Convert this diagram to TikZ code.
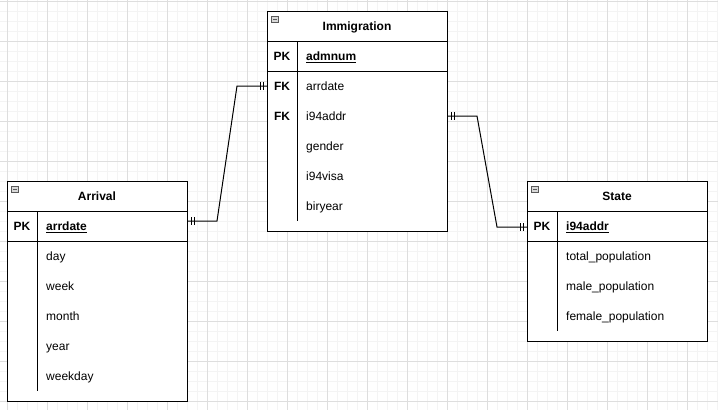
\documentclass[tikz,border=0pt]{standalone}
\usepackage{fontspec}
\setmainfont{Liberation Sans}
\usepackage{tikz}
\usetikzlibrary{positioning}

\definecolor{gridminor}{HTML}{F4F4F4}
\definecolor{gridmajor}{HTML}{DEDEDE}

\begin{document}
\begin{tikzpicture}[
  x=1pt, y=-1pt,
  every node/.style={font=\fontsize{12}{14}\selectfont, text height=11pt, text depth=2pt},
  hd/.style={outer sep=0pt, minimum width=180pt, minimum height=30pt, font=\fontsize{12}{14}\selectfont\bfseries},
  rw/.style={outer sep=0pt, minimum width=180pt, minimum height=30pt},
  bd/.style={outer sep=0pt, minimum width=180pt},
  tbl/.style={draw, line width=1pt, fill=white},
  key/.style={font=\fontsize{12}{14}\selectfont\bfseries},
  fld/.style={anchor=west, inner sep=0pt},
  ico/.style={draw=gray!70!black, fill=gray!30, minimum width=7pt, minimum height=6pt, inner sep=0pt, text height=, text depth=,
    path picture={\draw[gray!70!black] ([xshift=1.5pt]path picture bounding box.west) -- ([xshift=-1.5pt]path picture bounding box.east);}},
  bars/.pic={\draw[line width=1pt] (0,-4) -- (0,4) (3,-4) -- (3,4);}
]
\useasboundingbox (0,0) rectangle (718,410);

% grid
\foreach \x in {7,17,...,717} \draw[gridminor, line width=1pt] (\x,0) -- (\x,410);
\foreach \y in {1,11,...,401} \draw[gridminor, line width=1pt] (0,\y) -- (718,\y);
\foreach \x in {7,47,...,687} \draw[gridmajor, line width=1pt] (\x,0) -- (\x,410);
\foreach \y in {1,41,...,401} \draw[gridmajor, line width=1pt] (0,\y) -- (718,\y);

% Immigration
\node[hd] (imm) at (357,26) {};
\node[rw, below=0pt of imm] (imm-pk) {};
\node[bd, minimum height=160pt, below=0pt of imm-pk] (imm-bd) {};
\draw[tbl] (imm.north west) rectangle (imm-bd.south east);
\draw[line width=1pt] (imm.south west) -- (imm.south east) (imm-pk.south west) -- (imm-pk.south east);
\draw[line width=1pt] ([xshift=30pt]imm.south west) -- ([shift={(30,-10)}]imm-bd.south west);
\node[hd] at (imm) {Immigration};
\node[ico] at ([shift={(8,8)}]imm.north west) {};
\node[key] at ([xshift=15pt]imm-pk.west) {PK};
\node[fld, font=\fontsize{12}{14}\selectfont\bfseries] (imm-admnum) at ([xshift=39pt]imm-pk.west) {\underline{admnum}};
\foreach \f [count=\i] in {arrdate,i94addr,gender,i94visa,biryear}
  \node[fld] (imm-\f) at ([shift={(39,{30*\i-15})}]imm-bd.north west) {\f};
\node[key] at (imm-pk.west |- imm-arrdate) [xshift=15pt] {FK};
\node[key] at (imm-pk.west |- imm-i94addr) [xshift=15pt] {FK};

% Arrival
\node[hd] (arr) at (97,196) {};
\node[rw, below=0pt of arr] (arr-pk) {};
\node[bd, minimum height=160pt, below=0pt of arr-pk] (arr-bd) {};
\draw[tbl] (arr.north west) rectangle (arr-bd.south east);
\draw[line width=1pt] (arr.south west) -- (arr.south east) (arr-pk.south west) -- (arr-pk.south east);
\draw[line width=1pt] ([xshift=30pt]arr.south west) -- ([shift={(30,-10)}]arr-bd.south west);
\node[hd] at (arr) {Arrival};
\node[ico] at ([shift={(8,8)}]arr.north west) {};
\node[key] at ([xshift=15pt]arr-pk.west) {PK};
\node[fld, font=\fontsize{12}{14}\selectfont\bfseries] (arr-arrdate) at ([xshift=39pt]arr-pk.west) {\underline{arrdate}};
\foreach \f [count=\i] in {day,week,month,year,weekday}
  \node[fld] (arr-\f) at ([shift={(39,{30*\i-15})}]arr-bd.north west) {\f};

% State
\node[hd] (st) at (617,196) {};
\node[rw, below=0pt of st] (st-pk) {};
\node[bd, minimum height=100pt, below=0pt of st-pk] (st-bd) {};
\draw[tbl] (st.north west) rectangle (st-bd.south east);
\draw[line width=1pt] (st.south west) -- (st.south east) (st-pk.south west) -- (st-pk.south east);
\draw[line width=1pt] ([xshift=30pt]st.south west) -- ([shift={(30,-10)}]st-bd.south west);
\node[hd] at (st) {State};
\node[ico] at ([shift={(8,8)}]st.north west) {};
\node[key] at ([xshift=15pt]st-pk.west) {PK};
\node[fld, font=\fontsize{12}{14}\selectfont\bfseries] (st-i94addr) at ([xshift=39pt]st-pk.west) {\underline{i94addr}};
\foreach \f/\t [count=\i] in {total/total\_population,male/male\_population,female/female\_population}
  \node[fld] (st-\f) at ([shift={(39,{30*\i-15})}]st-bd.north west) {\t};

% relations
\coordinate (c1) at ([yshift=5pt]arr-pk.east);
\coordinate (c2) at (imm.west |- imm-arrdate);
\draw[line width=1pt] (c1) -- ++(30,0) -- ([xshift=-30pt]c2) -- (c2);
\pic at ([xshift=4pt]c1) {bars};
\pic at ([xshift=-7pt]c2) {bars};

\coordinate (c3) at (imm.east |- imm-i94addr);
\coordinate (c4) at ([yshift=-1pt]st-pk.west);
\draw[line width=1pt] (c3) -- ++(30,0) -- ([xshift=-30pt]c4) -- (c4);
\pic at ([xshift=4pt]c3) {bars};
\pic at ([xshift=-7pt]c4) {bars};
\end{tikzpicture}
\end{document}
